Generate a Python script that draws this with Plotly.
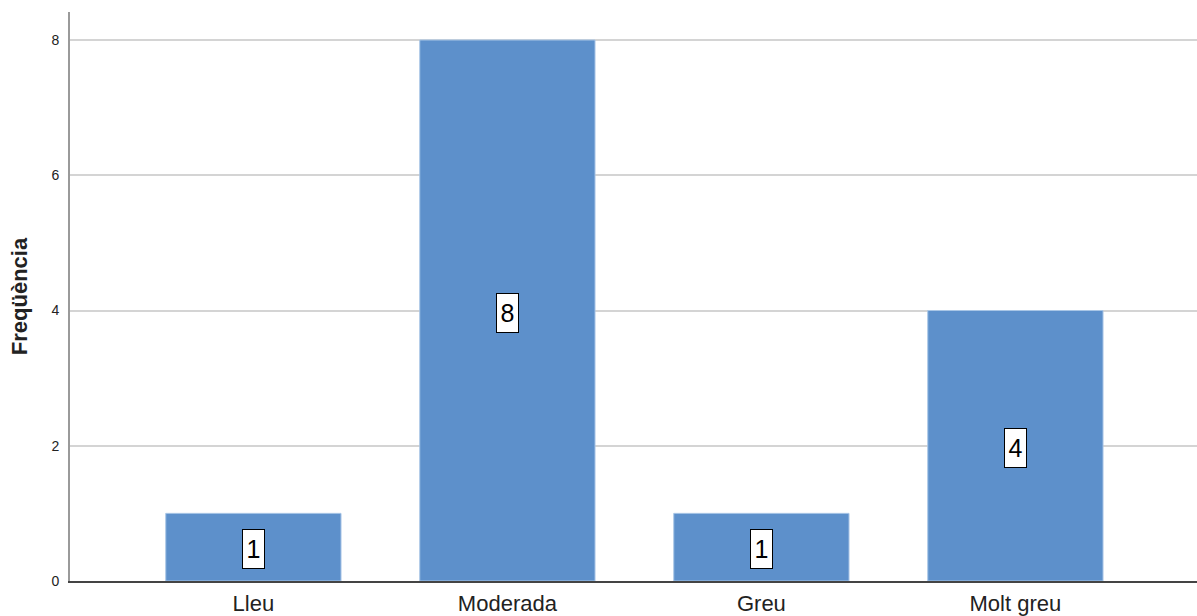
import plotly.graph_objects as go

# Severity categories and their frequencies
categories = ["Lleu", "Moderada", "Greu", "Molt greu"]
counts = [1, 8, 1, 4]
y_ticks = [0, 2, 4, 6, 8]

FONT = "Liberation Sans, Arial, sans-serif"
BAR_COLOR = "#5d90cb"

fig = go.Figure()
fig.add_trace(go.Bar(
    x=list(range(len(categories))),
    y=counts,
    width=0.69,
    marker=dict(color=BAR_COLOR, line=dict(color="#a9c6e6", width=1)),
    hoverinfo="skip",
))

# Value labels in white boxes at mid-height of each bar
for i, v in enumerate(counts):
    fig.add_annotation(
        x=i, y=v / 2, text=str(v), showarrow=False,
        font=dict(family=FONT, size=25, color="#000000"),
        bgcolor="#ffffff", bordercolor="#000000", borderwidth=1,
        borderpad=2, width=17, height=34, yshift=-2,
    )

fig.update_layout(
    width=1197, height=616,
    margin=dict(l=70, r=0, t=12, b=35),
    paper_bgcolor="#ffffff", plot_bgcolor="#ffffff",
    showlegend=False,
    font=dict(family=FONT, color="#222222"),
    xaxis=dict(
        range=[-0.722, 3.715],
        tickmode="array", tickvals=list(range(len(categories))), ticktext=categories,
        tickfont=dict(size=22, color="#222222"),
        showgrid=False, zeroline=False,
        showline=True, linecolor="#444444", linewidth=1.5,
        ticks="", ticklabelstandoff=2,
    ),
    yaxis=dict(
        range=[0, 8.414],
        tickmode="array", tickvals=y_ticks,
        tickfont=dict(size=14, color="#222222"),
        showgrid=True, gridcolor="#d4d4d4", gridwidth=1.5,
        zeroline=False,
        showline=True, linecolor="#9a9a9a", linewidth=2,
        ticks="", ticklabelstandoff=6,
        title=dict(text="<b>Freqüència</b>", font=dict(size=22, color="#222222"), standoff=18),
    ),
)

fig.write_html("out.html")
